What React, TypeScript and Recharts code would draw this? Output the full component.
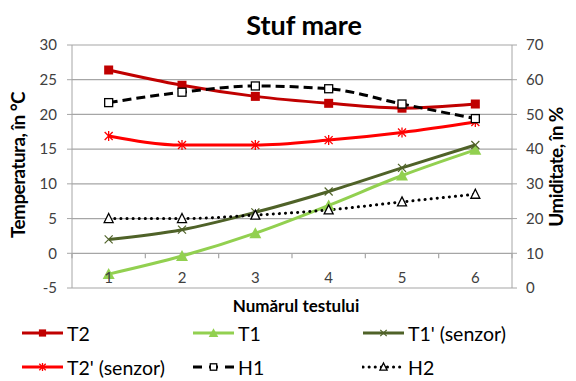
import React from 'react';
import { ComposedChart, Line, XAxis, YAxis, CartesianGrid } from 'recharts';

// Test numbers on the category axis
const tests = ['1', '2', '3', '4', '5', '6'];

// Temperatures, °C (left axis)
const t2 = [26.4, 24.2, 22.6, 21.6, 20.9, 21.5];
const t1 = [-3.0, -0.4, 2.9, 6.9, 11.2, 14.9];
const t1Sensor = [2.0, 3.4, 5.9, 8.9, 12.3, 15.6];
const t2Sensor = [16.9, 15.6, 15.6, 16.3, 17.4, 18.9];

// Humidity, % (right axis)
const h1 = [53.4, 56.4, 58.2, 57.4, 53.0, 48.8];
const h2 = [20, 20, 21, 22.5, 24.8, 27];

const tempTicks = [-5, 0, 5, 10, 15, 20, 25, 30];
const humTicks = [0, 10, 20, 30, 40, 50, 60, 70];

const data = tests.map((test, i) => ({
  test,
  t2: t2[i],
  t1: t1[i],
  t1s: t1Sensor[i],
  t2s: t2Sensor[i],
  h1: h1[i],
  h2: h2[i],
}));

type Shape = 'square' | 'triangle' | 'cross' | 'star' | 'squareOpen' | 'triangleOpen';

const series: {
  key: string;
  name: string;
  color: string;
  axis: 'left' | 'right';
  shape: Shape;
  dash?: string;
}[] = [
  { key: 't2', name: 'T2', color: '#C00000', axis: 'left', shape: 'square' },
  { key: 't1', name: 'T1', color: '#92D050', axis: 'left', shape: 'triangle' },
  { key: 't1s', name: "T1' (senzor)", color: '#4F6228', axis: 'left', shape: 'cross' },
  { key: 't2s', name: "T2' (senzor)", color: '#FF0000', axis: 'left', shape: 'star' },
  { key: 'h1', name: 'H1', color: '#000000', axis: 'right', shape: 'squareOpen', dash: '9 5' },
  { key: 'h2', name: 'H2', color: '#000000', axis: 'right', shape: 'triangleOpen', dash: '0.1 6' },
];

const FONT = 'Lato, "Liberation Sans", sans-serif';
const W = 576;
const H = 381;
const PLOT_LEFT = 72;
const PLOT_RIGHT = 512;
const PLOT_TOP = 45;
const PLOT_BOTTOM = 288;
const BAND = (PLOT_RIGHT - PLOT_LEFT) / tests.length;
const ZERO_OFFSET = (PLOT_BOTTOM - PLOT_TOP) / 7; // one 5°C step below the 0 line
const AXIS_W = 40;

const Marker = ({
  shape,
  cx,
  cy,
  color,
  scale = 1,
}: {
  shape: Shape;
  cx: number;
  cy: number;
  color: string;
  scale?: number;
}) => {
  const k = scale;
  switch (shape) {
    case 'square':
      return <rect x={cx - 4.5 * k} y={cy - 4.5 * k} width={9 * k} height={9 * k} fill={color} />;
    case 'squareOpen':
      return (
        <rect x={cx - 4 * k} y={cy - 4 * k} width={8 * k} height={8 * k} fill="#fff" stroke={color} strokeWidth={1.3} />
      );
    case 'triangle':
      return (
        <polygon
          points={`${cx},${cy - 6 * k} ${cx + 6 * k},${cy + 5 * k} ${cx - 6 * k},${cy + 5 * k}`}
          fill={color}
        />
      );
    case 'triangleOpen':
      return (
        <polygon
          points={`${cx},${cy - 5 * k} ${cx + 4.5 * k},${cy + 4 * k} ${cx - 4.5 * k},${cy + 4 * k}`}
          fill="#fff"
          stroke={color}
          strokeWidth={1.3}
        />
      );
    case 'cross':
      return (
        <g stroke={color} strokeWidth={1.2}>
          <line x1={cx - 4 * k} y1={cy - 4 * k} x2={cx + 4 * k} y2={cy + 4 * k} />
          <line x1={cx - 4 * k} y1={cy + 4 * k} x2={cx + 4 * k} y2={cy - 4 * k} />
        </g>
      );
    case 'star':
      return (
        <g stroke={color} strokeWidth={1.3}>
          <line x1={cx - 4 * k} y1={cy - 4 * k} x2={cx + 4 * k} y2={cy + 4 * k} />
          <line x1={cx - 4 * k} y1={cy + 4 * k} x2={cx + 4 * k} y2={cy - 4 * k} />
          <line x1={cx} y1={cy - 5 * k} x2={cx} y2={cy + 5 * k} />
        </g>
      );
  }
  return null;
};

// Category labels sit just under the 0°C line, with small ticks between categories
const CategoryTick = (props: any) => {
  const { x, y, payload, index } = props;
  const zeroY = y - ZERO_OFFSET;
  return (
    <g>
      <line x1={x + BAND / 2} x2={x + BAND / 2} y1={zeroY} y2={zeroY + 5} stroke="#A6A6A6" strokeWidth={1.2} />
      {index === 0 && (
        <line x1={x - BAND / 2} x2={x - BAND / 2} y1={zeroY} y2={zeroY + 5} stroke="#A6A6A6" strokeWidth={1.2} />
      )}
      <text x={x} y={y - 5} textAnchor="middle" fill="#404040" fontSize={15} fontFamily={FONT}>
        {payload.value}
      </text>
    </g>
  );
};

const LegendSample = ({ s }: { s: (typeof series)[number] }) => (
  <svg width={44} height={14} style={{ display: 'block' }}>
    <line
      x1={1}
      x2={42}
      y1={7}
      y2={7}
      stroke={s.color}
      strokeWidth={3}
      strokeDasharray={s.dash === '9 5' ? '9 7' : s.dash}
      strokeLinecap={s.dash && s.dash.startsWith('0.1') ? 'round' : 'butt'}
    />
    <Marker shape={s.shape} cx={21.5} cy={7} color={s.color} scale={0.8} />
  </svg>
);

const legendCols = [21, 192, 362];
const legendRows = [333, 367];

const axisTitle: React.CSSProperties = {
  position: 'absolute',
  width: 220,
  textAlign: 'center',
  transform: 'rotate(-90deg)',
  fontSize: 19,
  letterSpacing: -0.6,
  fontWeight: 'bold',
  lineHeight: '24px',
};

export default function App() {
  return (
    <div style={{ position: 'relative', width: W, height: H, background: '#fff', fontFamily: FONT }}>
      <style>{'body{margin:0}'}</style>
      <div
        style={{
          position: 'absolute',
          left: 304 - 150,
          top: 11,
          width: 300,
          textAlign: 'center',
          fontSize: 27,
          lineHeight: 1,
          fontWeight: 'bold',
          color: '#000',
        }}
      >
        Stuf mare
      </div>
      <ComposedChart
        width={W}
        height={H}
        data={data}
        margin={{
          top: PLOT_TOP,
          right: W - PLOT_RIGHT - AXIS_W,
          left: PLOT_LEFT - AXIS_W,
          bottom: H - PLOT_BOTTOM - 20,
        }}
      >
        <CartesianGrid yAxisId="left" vertical={false} stroke="#A6A6A6" strokeWidth={1.2} />
        <XAxis
          dataKey="test"
          height={20}
          axisLine={false}
          tickLine={false}
          tickSize={0}
          tickMargin={0}
          padding={{ left: BAND / 2, right: BAND / 2 }}
          tick={<CategoryTick />}
          interval={0}
        />
        <YAxis
          yAxisId="left"
          width={AXIS_W}
          domain={[-5, 30]}
          ticks={tempTicks}
          interval={0}
          stroke="#A6A6A6"
          tickSize={5}
          tickMargin={10}
          tick={{ fill: '#404040', fontSize: 15, fontFamily: FONT }}
        />
        <YAxis
          yAxisId="right"
          orientation="right"
          width={AXIS_W}
          domain={[0, 70]}
          ticks={humTicks}
          interval={0}
          stroke="#A6A6A6"
          tickSize={5}
          tickMargin={9}
          tick={{ fill: '#404040', fontSize: 15, fontFamily: FONT }}
        />
        {series.map(s => (
          <Line
            key={s.key}
            yAxisId={s.axis}
            dataKey={s.key}
            name={s.name}
            type="monotone"
            stroke={s.color}
            strokeWidth={3}
            strokeDasharray={s.dash}
            strokeLinecap={s.dash && s.dash.startsWith('0.1') ? 'round' : 'butt'}
            isAnimationActive={false}
            dot={(p: any) => <Marker key={`${s.key}-${p.index}`} shape={s.shape} cx={p.cx} cy={p.cy} color={s.color} />}
            activeDot={false}
          />
        ))}
      </ComposedChart>
      <div style={{ ...axisTitle, left: 18 - 110, top: 165 - 12 }}>Temperatura, în °C</div>
      <div style={{ ...axisTitle, left: 556 - 110, top: 167 - 12 }}>Umiditate, în %</div>
      <div
        style={{
          position: 'absolute',
          left: 296 - 150,
          top: 297,
          width: 300,
          textAlign: 'center',
          fontSize: 17,
          lineHeight: 1,
          fontWeight: 'bold',
        }}
      >
        Numărul testului
      </div>
      {series.map((s, i) => (
        <div
          key={s.key}
          style={{
            position: 'absolute',
            left: legendCols[i % 3],
            top: legendRows[Math.floor(i / 3)] - 12,
            height: 24,
            display: 'flex',
            alignItems: 'center',
            fontSize: 19.5,
            color: '#000',
          }}
        >
          <LegendSample s={s} />
          <span style={{ marginLeft: 2 }}>{s.name}</span>
        </div>
      ))}
    </div>
  );
}
